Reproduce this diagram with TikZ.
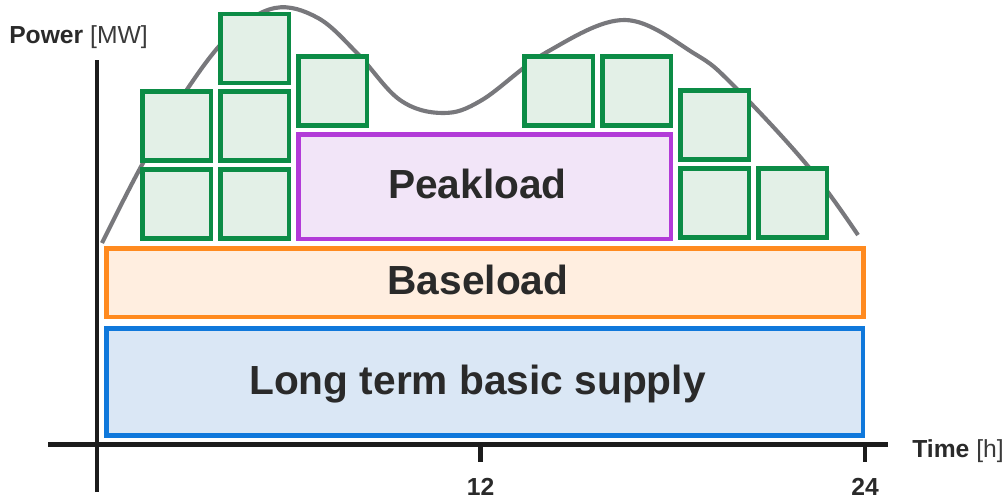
\documentclass[tikz,border=0pt]{standalone}
\usepackage{fontspec}
\setmainfont{Liberation Sans}
\definecolor{txt}{HTML}{2A2A2A}
\definecolor{txtb}{HTML}{3A3A3A}
\definecolor{axc}{HTML}{1C1C1C}
\definecolor{grn}{HTML}{0C8C46}
\definecolor{grnf}{HTML}{E3F0E7}
\definecolor{pur}{HTML}{B23BD8}
\definecolor{purf}{HTML}{F2E5F8}
\definecolor{org}{HTML}{FF8A1F}
\definecolor{orgf}{HTML}{FFEEE0}
\definecolor{blu}{HTML}{0F78DB}
\definecolor{bluf}{HTML}{DAE7F5}
\definecolor{crv}{HTML}{78787C}
\begin{document}
\begin{tikzpicture}[x=0.75pt,y=-0.75pt,
  sq/.style={draw=grn, fill=grnf, line width=3.4pt, minimum width=51.4pt, minimum height=52pt, inner sep=0pt},
  band/.style={line width=3.4pt, inner sep=0pt, font=\fontsize{30.5}{30.5}\selectfont\bfseries, text=txt, text height=21.8pt, text depth=3.6pt},
  ax/.style={line width=3.6pt, draw=axc},
  tick/.style={line width=3.2pt, draw=axc},
  curve/.style={line width=3.1pt, draw=crv},
  lbl/.style={font=\fontsize{18.5}{18.5}\selectfont, text=txt, inner sep=0pt},
  num/.style={lbl, anchor=base, font=\fontsize{18.5}{18.5}\selectfont\bfseries}]
\useasboundingbox (0,0) rectangle (1006,500);
% axes
\coordinate (ytop) at (97,60);
\coordinate (ybot) at (97,492);
\coordinate (xl) at (48,444.5);
\coordinate (xr) at (888,444.5);
\draw[ax] (ybot) -- (ytop);
\draw[ax] (xl) -- (xr);
\coordinate (t12) at (480.5,444.5);
\coordinate (t12e) at (480.5,462);
\coordinate (t24) at (865,444.5);
\coordinate (t24e) at (865,462);
\draw[tick] (t12) -- (t12e);
\draw[tick] (t24) -- (t24e);
% load curve
\draw[curve] plot[smooth, tension=0.6] coordinates {(102,243) (143,163) (188,88) (230,35) (275,8) (318,18) (357,53) (400,100) (443,113) (482,100) (547,52) (625,20) (695,54) (733,85) (807,165) (858,235)};
% bands
\node[band, draw=blu, fill=bluf, minimum width=567.4pt, minimum height=80.6pt] (lt) at (484.5,382) {\hspace*{-10.5pt}Long term basic supply};
\node[band, draw=org, fill=orgf, minimum width=568.1pt, minimum height=51.4pt] (bl) at (485,282.5) {\hspace*{-10.5pt}Baseload};
\node[band, draw=pur, fill=purf, minimum width=279.4pt, minimum height=78.4pt] (pk) at (484.5,186.5) {\hspace*{-10.5pt}Peakload};
% green blocks
\node[sq] (a0) at (176.5,204) {};
\node[sq] (a1) at (176.5,126) {};
\node[sq] (b0) at (254.5,204) {};
\node[sq] (b1) at (254.5,126) {};
\node[sq] (b2) at (254.5,48.5) {};
\node[sq] (c1) at (332.5,91) {};
\node[sq] (d1) at (558.5,91) {};
\node[sq] (e1) at (636.5,91) {};
\node[sq] (f1) at (714.5,125) {};
\node[sq] (f0) at (714.5,203) {};
\node[sq] (g0) at (792.5,203) {};
% labels
\node[lbl, anchor=base west] (pw) at (9,43) {\textbf{Power} \textcolor{txtb}{[MW]}};
\node[lbl, anchor=base west] (tm) at (912,457) {\textbf{Time} \textcolor{txtb}{[h]}};
\node[num] (l12) at (480.5,495) {12};
\node[num] (l24) at (865,495) {24};
\end{tikzpicture}
\end{document}
